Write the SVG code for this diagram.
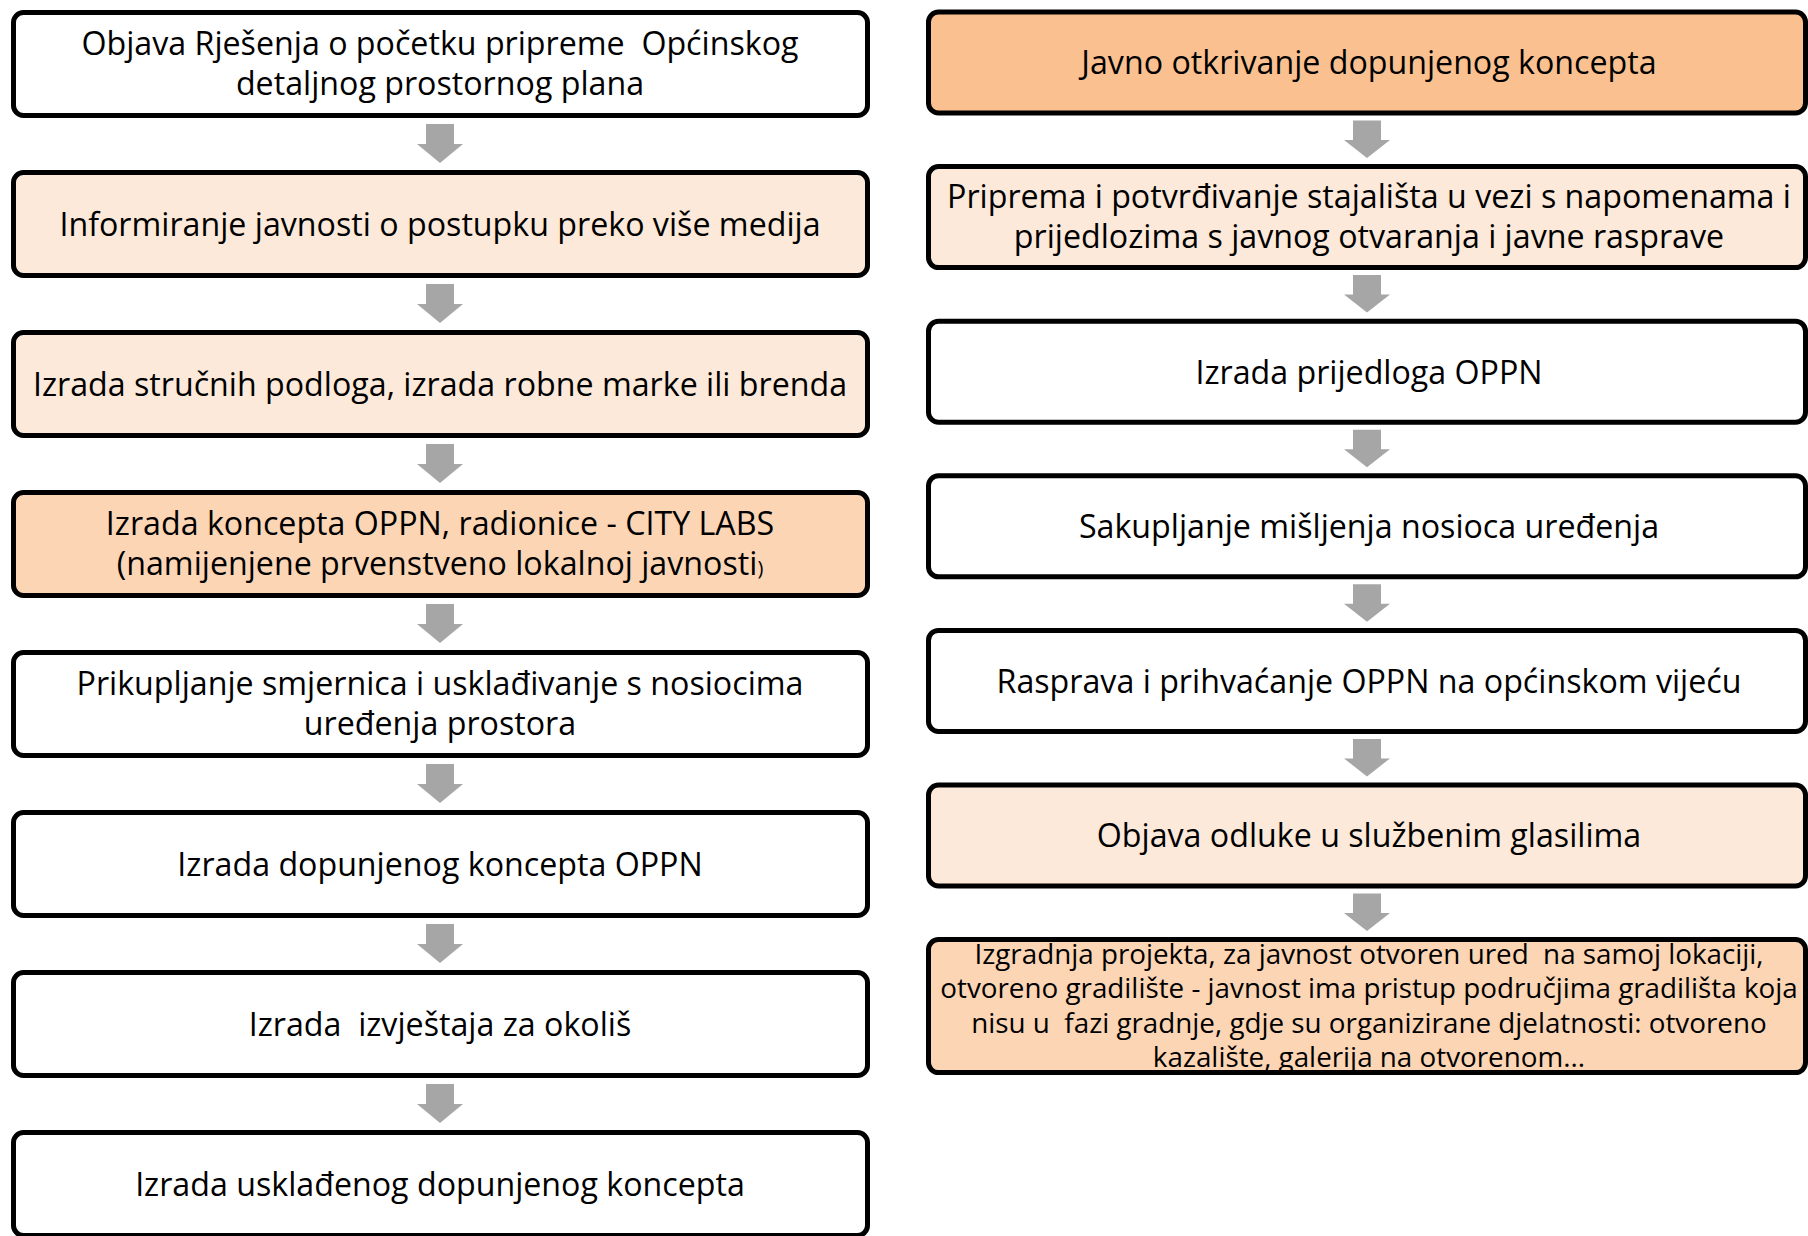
<svg xmlns="http://www.w3.org/2000/svg" width="1808" height="1236" viewBox="0 0 1808 1236">
<style>
.box{stroke:#000;stroke-width:5}
.w{fill:#fff}
.p1{fill:#fde9d9}
.p2{fill:#fcd5b5}
.p3{fill:#fac090}
text{font-family:"Open Sans","Liberation Sans",sans-serif;font-size:32.2px;fill:#000;text-anchor:middle;white-space:pre}
.sm{font-size:27.8px}
.arr{fill:#a6a6a6}
</style>
<rect width="1808" height="1236" fill="#fff"/>
<g id="connectors">
<path class="arr" d="M426,124H454V144H463L440,163L417,144H426Z"/>
<path class="arr" d="M426,284H454V304H463L440,323L417,304H426Z"/>
<path class="arr" d="M426,444H454V464H463L440,483L417,464H426Z"/>
<path class="arr" d="M426,604H454V624H463L440,643L417,624H426Z"/>
<path class="arr" d="M426,764H454V784H463L440,803L417,784H426Z"/>
<path class="arr" d="M426,924H454V944H463L440,963L417,944H426Z"/>
<path class="arr" d="M426,1084H454V1104H463L440,1123L417,1104H426Z"/>
<path class="arr" d="M1353,120.5H1381V140H1390L1367,158L1344,140H1353Z"/>
<path class="arr" d="M1353,275.1H1381V294.6H1390L1367,312.6L1344,294.6H1353Z"/>
<path class="arr" d="M1353,429.7H1381V449.2H1390L1367,467.2L1344,449.2H1353Z"/>
<path class="arr" d="M1353,584.3H1381V603.8H1390L1367,621.8L1344,603.8H1353Z"/>
<path class="arr" d="M1353,738.9H1381V758.4H1390L1367,776.4L1344,758.4H1353Z"/>
<path class="arr" d="M1353,893.5H1381V913H1390L1367,931L1344,913H1353Z"/>
</g>
<g id="L1"><rect class="box w" x="13.5" y="12.5" width="854" height="103" rx="10"/>
<text x="440" y="55">Objava Rješenja o početku pripreme  Općinskog</text><text x="440" y="95">detaljnog prostornog plana</text></g>
<g id="L2"><rect class="box p1" x="13.5" y="172.5" width="854" height="103" rx="10"/>
<text x="440" y="236">Informiranje javnosti o postupku preko više medija</text></g>
<g id="L3"><rect class="box p1" x="13.5" y="332.5" width="854" height="103" rx="10"/>
<text x="440" y="396">Izrada stručnih podloga, izrada robne marke ili brenda</text></g>
<g id="L4"><rect class="box p2" x="13.5" y="492.5" width="854" height="103" rx="10"/>
<text x="440" y="535">Izrada koncepta OPPN, radionice - CITY LABS</text><text x="440" y="575">(namijenjene prvenstveno lokalnoj javnosti<tspan font-size="20">)</tspan></text></g>
<g id="L5"><rect class="box w" x="13.5" y="652.5" width="854" height="103" rx="10"/>
<text x="440" y="695">Prikupljanje smjernica i usklađivanje s nosiocima</text><text x="440" y="735">uređenja prostora</text></g>
<g id="L6"><rect class="box w" x="13.5" y="812.5" width="854" height="103" rx="10"/>
<text x="440" y="876">Izrada dopunjenog koncepta OPPN</text></g>
<g id="L7"><rect class="box w" x="13.5" y="972.5" width="854" height="103" rx="10"/>
<text x="440" y="1036">Izrada  izvještaja za okoliš</text></g>
<g id="L8"><rect class="box w" x="13.5" y="1132.5" width="854" height="103" rx="10"/>
<text x="440" y="1196">Izrada usklađenog dopunjenog koncepta</text></g>
<g id="R1"><rect class="box p3" x="928.5" y="12" width="877" height="101" rx="10"/>
<text x="1369" y="74">Javno otkrivanje dopunjenog koncepta</text></g>
<g id="R2"><rect class="box p1" x="928.5" y="166.6" width="877" height="101" rx="10"/>
<text x="1369" y="208">Priprema i potvrđivanje stajališta u vezi s napomenama i</text><text x="1369" y="248">prijedlozima s javnog otvaranja i javne rasprave</text></g>
<g id="R3"><rect class="box w" x="928.5" y="321.2" width="877" height="101" rx="10"/>
<text x="1369" y="383.5">Izrada prijedloga OPPN</text></g>
<g id="R4"><rect class="box w" x="928.5" y="475.8" width="877" height="101" rx="10"/>
<text x="1369" y="538">Sakupljanje mišljenja nosioca uređenja</text></g>
<g id="R5"><rect class="box w" x="928.5" y="630.4" width="877" height="101" rx="10"/>
<text x="1369" y="692.5">Rasprava i prihvaćanje OPPN na općinskom vijeću</text></g>
<g id="R6"><rect class="box p1" x="928.5" y="785" width="877" height="101" rx="10"/>
<text x="1369" y="847">Objava odluke u službenim glasilima</text></g>
<g id="R7"><rect class="box p2" x="928.5" y="939.6" width="877" height="133" rx="10"/>
<text class="sm" x="1369" y="963.5">Izgradnja projekta, za javnost otvoren ured  na samoj lokaciji,</text>
<text class="sm" x="1369" y="998">otvoreno gradilište - javnost ima pristup područjima gradilišta koja</text>
<text class="sm" x="1369" y="1032.5">nisu u  fazi gradnje, gdje su organizirane djelatnosti: otvoreno</text>
<text class="sm" x="1369" y="1067">kazalište, galerija na otvorenom...</text></g>
</svg>
